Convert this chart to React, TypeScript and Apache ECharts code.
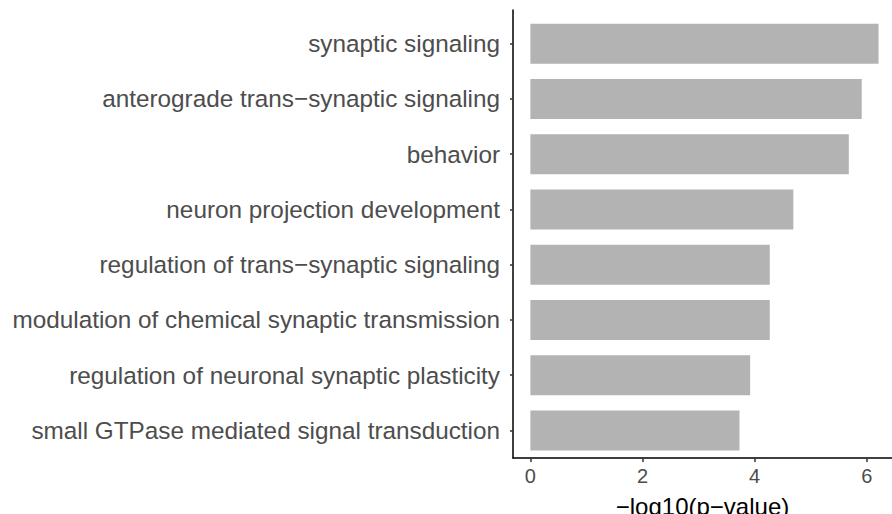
import React, { useEffect, useRef } from "react";
import * as echarts from "echarts";

// GO biological process terms, top to bottom
const terms = [
  "synaptic signaling",
  "anterograde trans\u2212synaptic signaling",
  "behavior",
  "neuron projection development",
  "regulation of trans\u2212synaptic signaling",
  "modulation of chemical synaptic transmission",
  "regulation of neuronal synaptic plasticity",
  "small GTPase mediated signal transduction",
];

// -log10(p-value) for each term
const negLogP = [6.21, 5.91, 5.68, 4.69, 4.27, 4.27, 3.92, 3.73];

const xTicks = [0, 2, 4, 6];
const xTitle = "\u2212log10(p\u2212value)";

const FONT = "'Liberation Sans', Arial, Helvetica, sans-serif";

export default function App() {
  const ref = useRef<HTMLDivElement>(null);

  useEffect(() => {
    if (!ref.current) return;
    const chart = echarts.init(ref.current, null, { renderer: "svg" });
    chart.setOption({
      animation: false,
      backgroundColor: "#ffffff",
      grid: [
        {
          left: 513,
          right: 0,
          top: 16,
          bottom: 56,
          containLabel: false,
          outerBoundsMode: "none",
        },
        {
          left: 513,
          right: 0,
          top: 10,
          bottom: 56,
          containLabel: false,
          outerBoundsMode: "none",
        },
      ],
      xAxis: [
        {
          type: "value",
          gridIndex: 0,
          min: -0.31,
          max: 6.45,
          splitLine: { show: false },
          axisLine: {
            show: true,
            onZero: false,
            lineStyle: { color: "#000000", width: 1.5 },
          },
          axisTick: {
            show: true,
            length: 4,
            customValues: xTicks,
            lineStyle: { color: "#333333", width: 1.5 },
          },
          axisLabel: {
            show: true,
            customValues: xTicks,
            margin: 8,
            fontSize: 20,
            fontFamily: FONT,
            color: "#4d4d4d",
          },
          name: xTitle,
          nameLocation: "middle",
          nameGap: 36,
          nameTextStyle: { fontSize: 24, fontFamily: FONT, color: "#000000" },
        },
        {
          type: "value",
          gridIndex: 1,
          show: false,
          min: 0,
          max: 1,
        },
      ],
      yAxis: [
        {
          type: "category",
          gridIndex: 0,
          data: terms,
          inverse: true,
          axisLine: { show: false, onZero: false },
          axisTick: {
            show: true,
            alignWithLabel: true,
            length: 3,
            lineStyle: { color: "#333333", width: 1.5 },
          },
          axisLabel: {
            margin: 13,
            fontSize: 24.3,
            fontFamily: FONT,
            color: "#4d4d4d",
          },
          splitLine: { show: false },
        },
        {
          // full-height vertical axis line
          type: "value",
          gridIndex: 1,
          min: 0,
          max: 1,
          axisLine: {
            show: true,
            onZero: false,
            lineStyle: { color: "#000000", width: 1.5 },
          },
          axisTick: { show: false },
          axisLabel: { show: false },
          splitLine: { show: false },
        },
      ],
      series: [
        {
          type: "bar",
          xAxisIndex: 0,
          yAxisIndex: 0,
          data: negLogP,
          barWidth: 40,
          itemStyle: { color: "#b3b3b3" },
          silent: true,
        },
      ],
    });
    return () => chart.dispose();
  }, []);

  return (
    <div
      ref={ref}
      style={{ position: "absolute", left: 0, top: 0, width: 892, height: 514 }}
    />
  );
}
